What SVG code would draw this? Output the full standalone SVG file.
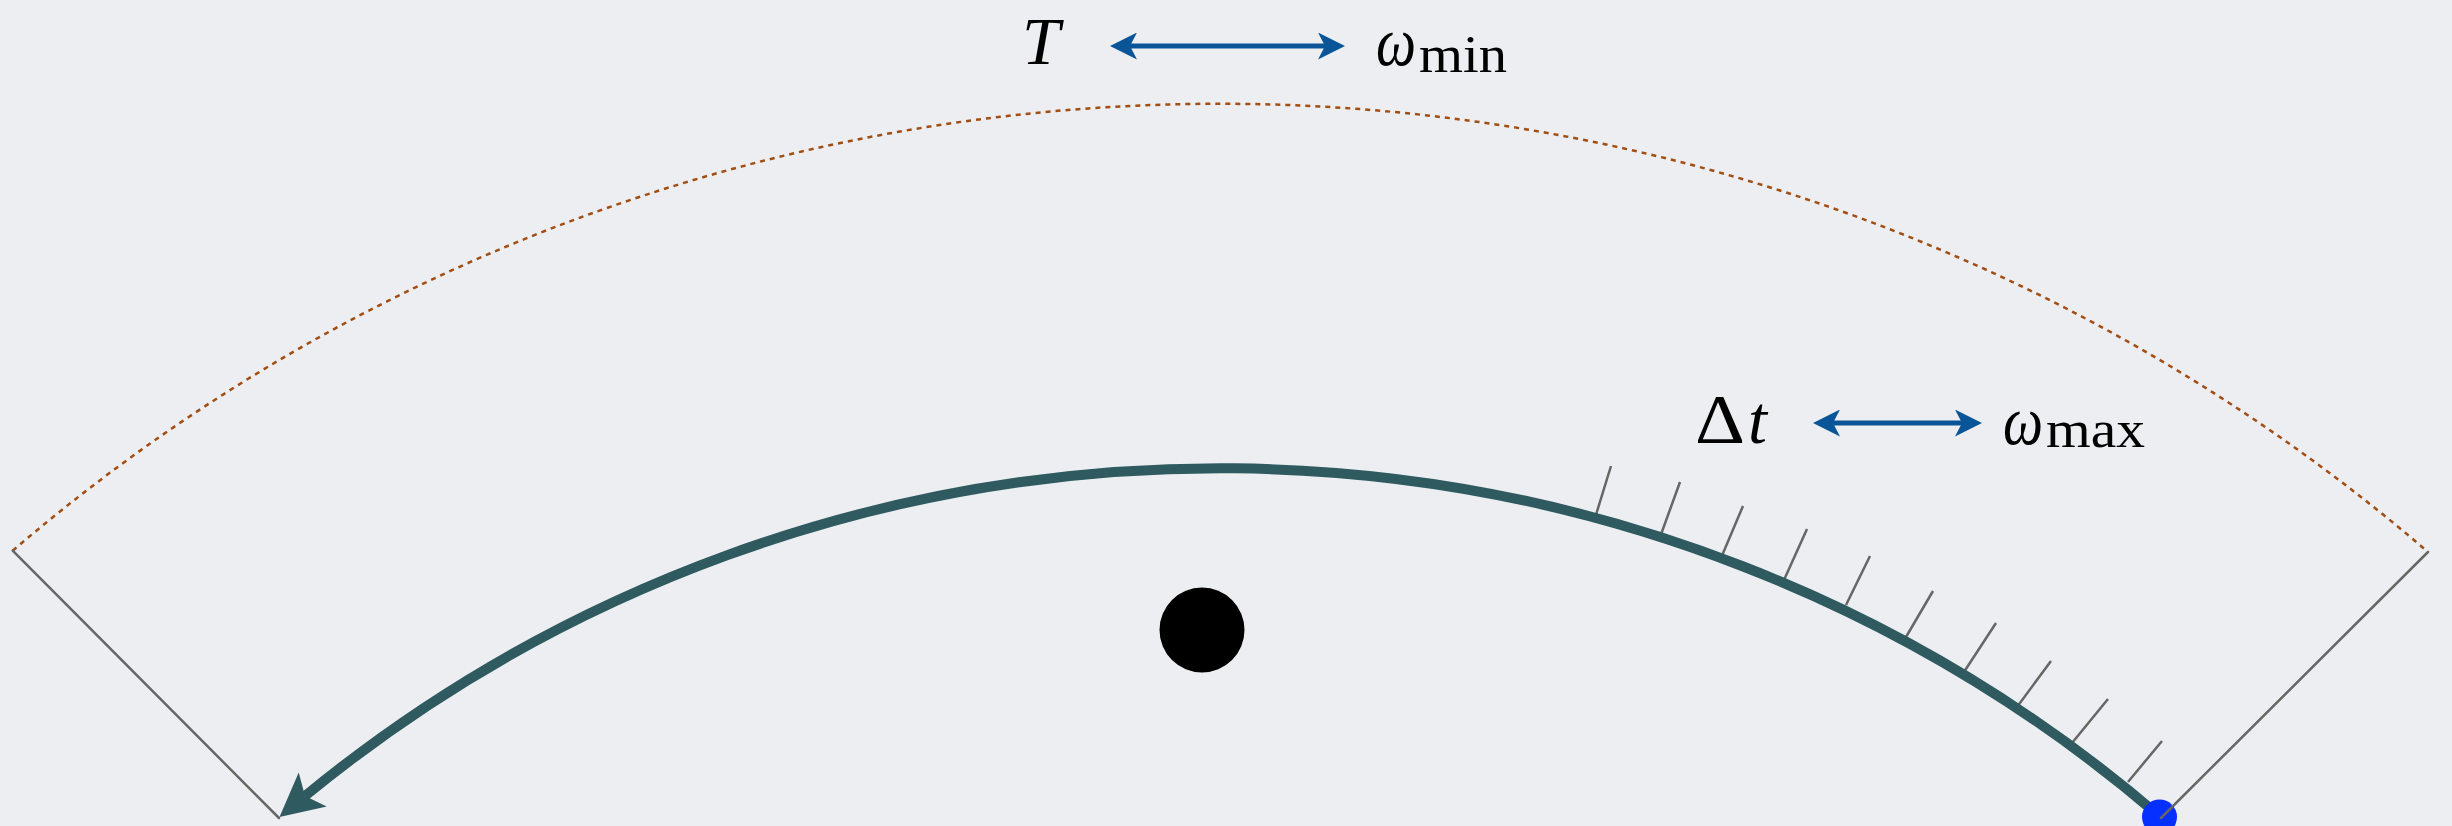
<svg xmlns="http://www.w3.org/2000/svg" width="2452" height="826" viewBox="0 0 2452 826">
<style>
.math{font-family:"Liberation Serif","DejaVu Serif",serif;fill:#000}
.it{font-style:italic}
.blue{stroke:#0a5597;stroke-width:5;fill:none}
.gray{stroke:#666;stroke-width:2.5;fill:none;stroke-linecap:round}
.tick{stroke:#666;stroke-width:2.5;fill:none}
</style>
<defs>
<marker id="bh" viewBox="0 0 27 27" refX="7" refY="13.5" markerWidth="27" markerHeight="27" markerUnits="userSpaceOnUse" orient="auto-start-reverse">
<path d="M0,0 L27,13.5 L0,27 L7,13.5 Z" fill="#0a5597"/>
</marker>
</defs>
<rect width="2452" height="826" fill="#eceef1"/>
<g id="outer-arc">
<path d="M 12.7 550.7 A 1853 1853 0 0 1 2428 552" fill="none" stroke="#a24d12" stroke-width="2.5" stroke-dasharray="5 5"/>
</g>
<g id="radial-left"><line class="gray" x1="12.7" y1="550.7" x2="279" y2="818"/></g>
<g id="center-dot"><circle cx="1202" cy="630" r="42.5" fill="#000"/></g>
<g id="ticks">
<line class="tick" x1="1595" y1="518" x2="1611" y2="466"/>
<line class="tick" x1="1659" y1="540" x2="1680" y2="482"/>
<line class="tick" x1="1721" y1="558" x2="1743" y2="506"/>
<line class="tick" x1="1784" y1="580" x2="1807" y2="529"/>
<line class="tick" x1="1846" y1="605" x2="1870" y2="556"/>
<line class="tick" x1="1906" y1="637" x2="1933" y2="591"/>
<line class="tick" x1="1962" y1="675" x2="1996" y2="623"/>
<line class="tick" x1="2017" y1="707" x2="2051" y2="661"/>
<line class="tick" x1="2072" y1="743" x2="2108" y2="699"/>
<line class="tick" x1="2128" y1="782" x2="2162" y2="741"/>
</g>
<g id="connectors">
<path d="M 2159.6 816.2 A 1442 1442 0 0 0 305 796" fill="none" stroke="#2e5a60" stroke-width="10"/>
<polygon points="279.5,816.9 298.7,772.6 305,796 326.7,806.6" fill="#2e5a60"/>
<line class="blue" x1="1130" y1="46" x2="1325" y2="46" marker-start="url(#bh)" marker-end="url(#bh)"/>
<line class="blue" x1="1833" y1="423" x2="1962" y2="423" marker-start="url(#bh)" marker-end="url(#bh)"/>
</g>
<g id="start-dot"><circle cx="2159.5" cy="817" r="17.5" fill="#0530ff"/></g>
<g id="radial-right"><line class="gray" x1="2428" y1="552" x2="2161" y2="818"/></g>
<g id="label-T">
<text class="math it" x="1022" y="64" font-size="68">T</text>
</g>
<g id="label-wmin">
<text class="math it" x="1376" y="65" font-size="70" textLength="40" lengthAdjust="spacingAndGlyphs">ω</text>
<text class="math" x="1419" y="72" font-size="52" textLength="88" lengthAdjust="spacingAndGlyphs">min</text>
</g>
<g id="label-dt">
<text class="math" x="1695" y="443" font-size="70" textLength="50" lengthAdjust="spacingAndGlyphs">Δ</text>
<text class="math it" x="1748" y="443" font-size="68">t</text>
</g>
<g id="label-wmax">
<text class="math it" x="2003" y="444" font-size="70" textLength="40" lengthAdjust="spacingAndGlyphs">ω</text>
<text class="math" x="2046" y="447" font-size="52" textLength="99" lengthAdjust="spacingAndGlyphs">max</text>
</g>
</svg>
